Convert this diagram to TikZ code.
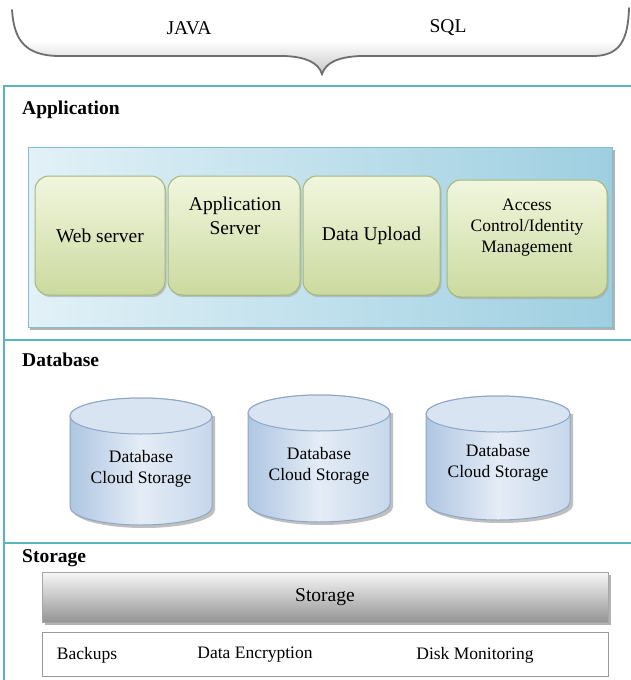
\documentclass[tikz,border=0pt]{standalone}
\usepackage{fontspec}
\setmainfont{Liberation Serif}
\usetikzlibrary{shadows}
\definecolor{frameteal}{HTML}{5BB5BC}
\definecolor{panelA}{HTML}{E2F1F7}
\definecolor{panelB}{HTML}{9ECFE1}
\definecolor{panelEdge}{HTML}{86BDD0}
\definecolor{greenA}{HTML}{F1F6DE}
\definecolor{greenB}{HTML}{CBDA9F}
\definecolor{greenEdge}{HTML}{A4B878}
\definecolor{cylA}{HTML}{E4ECF6}
\definecolor{cylB}{HTML}{AFC6E2}
\definecolor{cylEdge}{HTML}{8EA6C6}
\definecolor{braceEdge}{HTML}{6E6E6E}
\tikzset{
  txt/.style={font=\fontsize{17.5}{21}\selectfont, align=center, inner sep=0pt},
  bigtxt/.style={font=\fontsize{19.5}{24}\selectfont, align=center, inner sep=0pt},
  sectitle/.style={font=\bfseries\fontsize{19.5}{22}\selectfont, anchor=west, inner sep=0pt},
  gbox/.style={draw=greenEdge, line width=1pt, rounded corners=14pt, top color=greenA, bottom color=greenB,
    drop shadow={shadow xshift=1.5pt, shadow yshift=-2pt, fill=black!35, opacity=0.6}},
  cylbody/.style={draw=cylEdge, line width=1pt, left color=cylB, right color=cylB!70, middle color=cylA},
  cyltop/.style={draw=cylEdge, line width=1pt, fill=cylA!80!cylB},
  sep/.style={draw=frameteal, line width=2pt}
}
\begin{document}
\begin{tikzpicture}[x=1pt,y=-1pt]
\useasboundingbox (0,0) rectangle (631,680);
\fill[white] (0,0) rectangle (631,680);

% brace
\shade[top color=white, bottom color=black!22, middle color=white]
  (12,10) .. controls (14,40) and (25,56) .. (60,56) -- (285,56)
  .. controls (305,57) and (318,62) .. (322,74)
  .. controls (326,62) and (339,57) .. (360,56) -- (595,56)
  .. controls (620,55) and (628,40) .. (629,8) -- cycle;
\draw[braceEdge, line width=1.8pt, line cap=round]
  (12,10) .. controls (14,40) and (25,56) .. (60,56) -- (285,56)
  .. controls (305,57) and (318,62) .. (322,74)
  .. controls (326,62) and (339,57) .. (360,56) -- (595,56)
  .. controls (620,55) and (628,40) .. (629,8);
\node[bigtxt] (java) at (189,28) {JAVA};
\node[bigtxt] (sql) at (448,28) {SQL};

% frame
\draw[sep] (4,680) -- (4,86) -- (631,86);
\draw[sep] (4,340) -- (631,340);
\draw[sep] (4,543) -- (631,543);

% Application
\node[sectitle] (apptitle) at (22,110) {Application};
\fill[black!30] (30,150) rectangle (615,330);
\shade[shading angle=120, left color=panelA, right color=panelB]
  (28,147) rectangle (612,327);
\draw[panelEdge, line width=0.8pt] (28,147) rectangle (612,327);
\node[gbox, minimum width=130pt, minimum height=119pt] (web) at (100,235.5) {};
\node[gbox, minimum width=132pt, minimum height=119pt] (appsrv) at (234,235.5) {};
\node[gbox, minimum width=137pt, minimum height=119pt] (upload) at (371.5,235.5) {};
\node[gbox, minimum width=160pt, minimum height=117pt] (access) at (527,238.5) {};
\node[bigtxt] (webt) at (web.center) {Web server};
\node[bigtxt] (appt) at (235,216) {Application\\Server};
\node[bigtxt] (uploadt) at (upload.center) {Data Upload};
\node[txt] (accesst) at (527,228) {Access\\Control/Identity\\Management};

% Database
\node[sectitle] (dbtitle) at (22,360) {Database};
\foreach \cx/\a/\ty/\by in {141/71/416/507, 319/71/413/504, 498/72/414/502}{
  \fill[black!25] (\cx-\a+3,\ty) -- (\cx-\a+3,\by+3) arc[start angle=180,end angle=0,x radius=\a,y radius=18] -- (\cx+\a+3,\ty) -- cycle;
  \path[cylbody] (\cx-\a,\ty) -- (\cx-\a,\by) arc[start angle=180,end angle=0,x radius=\a,y radius=18]
     -- (\cx+\a,\ty) arc[start angle=0,end angle=-180,x radius=\a,y radius=18] -- cycle;
  \path[cyltop] (\cx,\ty) ellipse[x radius=\a, y radius=18];
}
\node[txt] (db1) at (141,469) {Database\\Cloud Storage};
\node[txt] (db2) at (319,466) {Database\\Cloud Storage};
\node[txt] (db3) at (498,463) {Database\\Cloud Storage};

% Storage
\node[sectitle] (sttitle) at (22,558) {Storage};
\fill[black!30] (45,575) rectangle (611,625);
\shade[top color=black!3, bottom color=black!42] (42,572) rectangle (608,622);
\draw[black!35] (42,572) rectangle (608,622);
\node[bigtxt] (storage) at (325,597) {Storage};
\draw[black!40, fill=white, line width=1pt] (42,632) rectangle (608,676);
\node[txt] (backups) at (87,655) {Backups};
\node[txt] (enc) at (255,655) {Data Encryption};
\node[txt] (disk) at (475,655) {Disk Monitoring};
\end{tikzpicture}
\end{document}
